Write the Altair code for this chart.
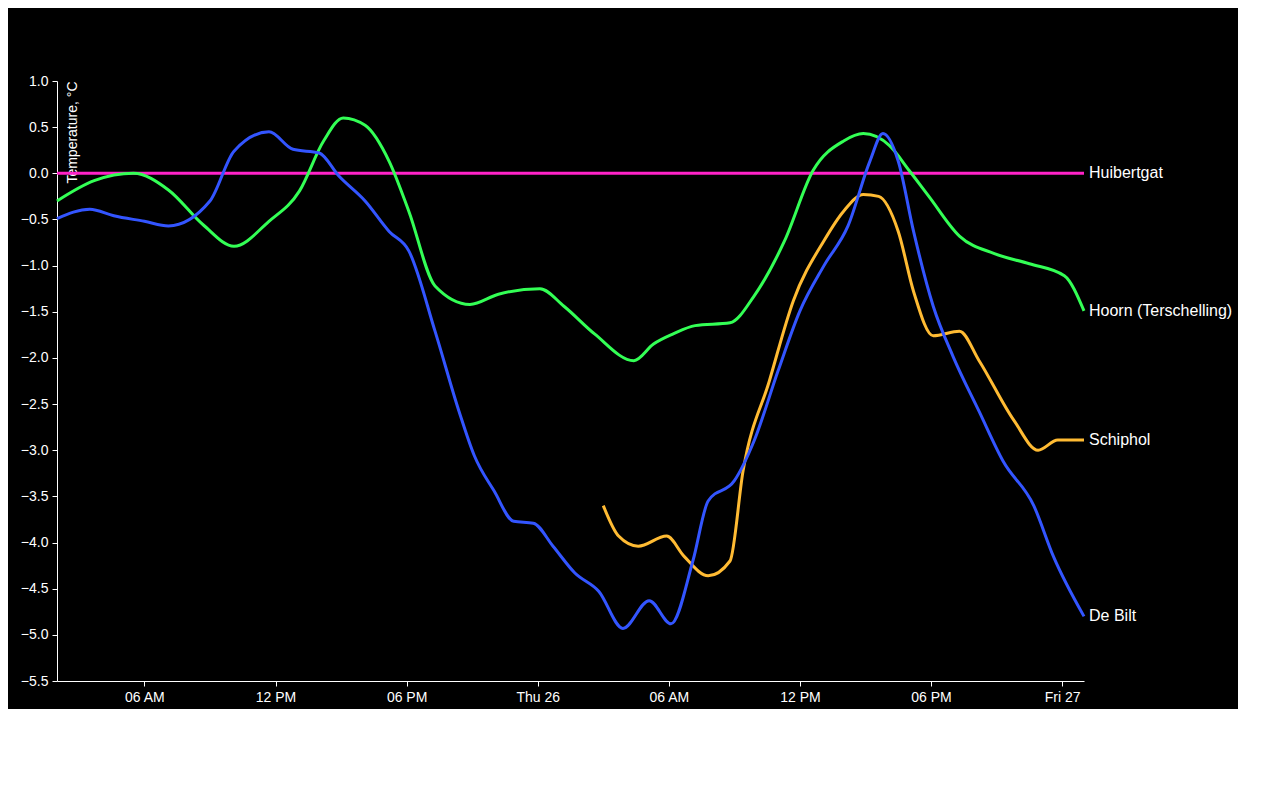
import pandas as pd
import altair as alt

START = pd.Timestamp("2017-01-25 02:00")
END = pd.Timestamp("2017-01-27 01:00")

STATIONS = ["Huibertgat", "Hoorn (Terschelling)", "Schiphol", "De Bilt"]
COLORS = ["#ff22c8", "#33ff55", "#ffbb33", "#3355ff"]

# x tick positions: (day, hour)
tick_days = [25, 25, 25, 26, 26, 26, 26, 27]
tick_hours = [6, 12, 18, 0, 6, 12, 18, 0]

# hours after START, temperature in degrees C
huib_h = [0, 47]
huib_t = [0.0, 0.0]

hoorn_h = [0, 1.7, 3.5, 5.1, 6.7, 8.1, 9.7, 11.1, 12.2, 13.1, 14.1, 15.2, 16.1, 17.3,
           18.9, 20.2, 22.1, 23.2, 24.6, 26.4, 27.3, 28.2, 29.2, 30.8, 31.9, 33.3,
           34.6, 36.0, 36.9, 38.1, 39.0, 39.9, 41.3, 42.9, 44.5, 46.1, 47.0]
hoorn_t = [-0.30, -0.08, 0.0, -0.18, -0.56, -0.79, -0.52, -0.19, 0.35, 0.60, 0.52, 0.13,
           -0.41, -1.22, -1.42, -1.31, -1.25, -1.44, -1.74, -2.03, -1.85, -1.74, -1.65,
           -1.62, -1.33, -0.73, 0.03, 0.35, 0.43, 0.30, 0.03, -0.25, -0.68, -0.87, -0.98,
           -1.11, -1.49]

bilt_h = [0, 1.5, 2.6, 4.0, 5.1, 7.0, 8.1, 9.7, 10.8, 12.0, 12.9, 14.1, 15.2, 16.1, 17.3,
          18.4, 19.1, 20.0, 20.9, 21.8, 22.7, 23.7, 24.8, 25.9, 27.1, 28.1, 29.1, 29.8,
          31.0, 31.9, 33.0, 34.0, 35.1, 36.2, 37.2, 37.8, 38.5, 39.2, 40.1, 41.0, 42.2,
          43.3, 44.7, 45.6, 47.0]
bilt_t = [-0.49, -0.39, -0.46, -0.52, -0.57, -0.30, 0.24, 0.45, 0.26, 0.22, -0.03, -0.30,
          -0.63, -0.84, -1.71, -2.58, -3.06, -3.44, -3.77, -3.79, -4.04, -4.33, -4.53,
          -4.93, -4.63, -4.88, -4.20, -3.55, -3.33, -2.90, -2.14, -1.49, -1.00, -0.57,
          0.13, 0.43, 0.13, -0.63, -1.44, -1.98, -2.58, -3.12, -3.60, -4.15, -4.80]

schip_h = [25.0, 25.7, 26.6, 27.9, 28.7, 29.8, 30.8, 31.4, 32.6, 33.7, 35.1, 36.0, 36.9,
           37.6, 38.5, 39.2, 40.1, 41.3, 42.2, 43.8, 44.9, 45.8, 47.0]
schip_t = [-3.60, -3.93, -4.04, -3.93, -4.15, -4.36, -4.20, -3.22, -2.25, -1.38, -0.73,
           -0.41, -0.23, -0.25, -0.63, -1.28, -1.76, -1.71, -2.03, -2.68, -3.00, -2.89,
           -2.89]

series = {
    "Huibertgat": (huib_h, huib_t),
    "Hoorn (Terschelling)": (hoorn_h, hoorn_t),
    "Schiphol": (schip_h, schip_t),
    "De Bilt": (bilt_h, bilt_t),
}

rows = []
for name, (hs, ts) in series.items():
    for h, t in zip(hs, ts):
        rows.append({"station": name, "time": START + pd.Timedelta(hours=h), "temp": t})
df = pd.DataFrame(rows)
df["time"] = df["time"].dt.strftime("%Y-%m-%dT%H:%M:%S")
last = df.groupby("station").tail(1)

tick_values = [alt.DateTime(year=2017, month=1, date=d, hours=h)
               for d, h in zip(tick_days, tick_hours)]

color = alt.Color("station:N", scale=alt.Scale(domain=STATIONS, range=COLORS), legend=None)
x = alt.X("time:T", title=None,
          scale=alt.Scale(domain=[alt.DateTime(year=2017, month=1, date=25, hours=2),
                                  alt.DateTime(year=2017, month=1, date=27, hours=1)]),
          axis=alt.Axis(values=tick_values,
                        labelExpr="hours(datum.value) == 0 ? timeFormat(datum.value, '%a %d') : timeFormat(datum.value, '%I %p')"))
y = alt.Y("temp:Q", title="Temperature, °C",
          scale=alt.Scale(domain=[-5.5, 1.0], nice=False),
          axis=alt.Axis(values=[v / 2 for v in range(-11, 3)], format=".1f",
                        titleX=22, titleY=0, titleAlign="right", titleBaseline="bottom"))

lines = alt.Chart(df).mark_line(interpolate="monotone", strokeWidth=3).encode(
    x=x, y=y, color=color, detail="station:N")

labels = alt.Chart(last).mark_text(align="left", dx=5, fontSize=16, color="white",
                                   font="Liberation Sans").encode(
    x="time:T", y="temp:Q", text="station:N")

chart = (lines + labels).properties(
    width=1027, height=600, background="black",
    padding={"left": 12, "top": 66, "right": 5, "bottom": 5},
).configure_axis(
    grid=False, domainColor="white", tickColor="white", labelColor="white",
    titleColor="white", labelFont="Liberation Sans", titleFont="Liberation Sans",
    labelFontSize=14, titleFontSize=14, titleFontWeight="normal", labelPadding=4,
).configure_view(stroke=None)

chart.save("out.html", embed_options={"renderer": "svg", "actions": False})
